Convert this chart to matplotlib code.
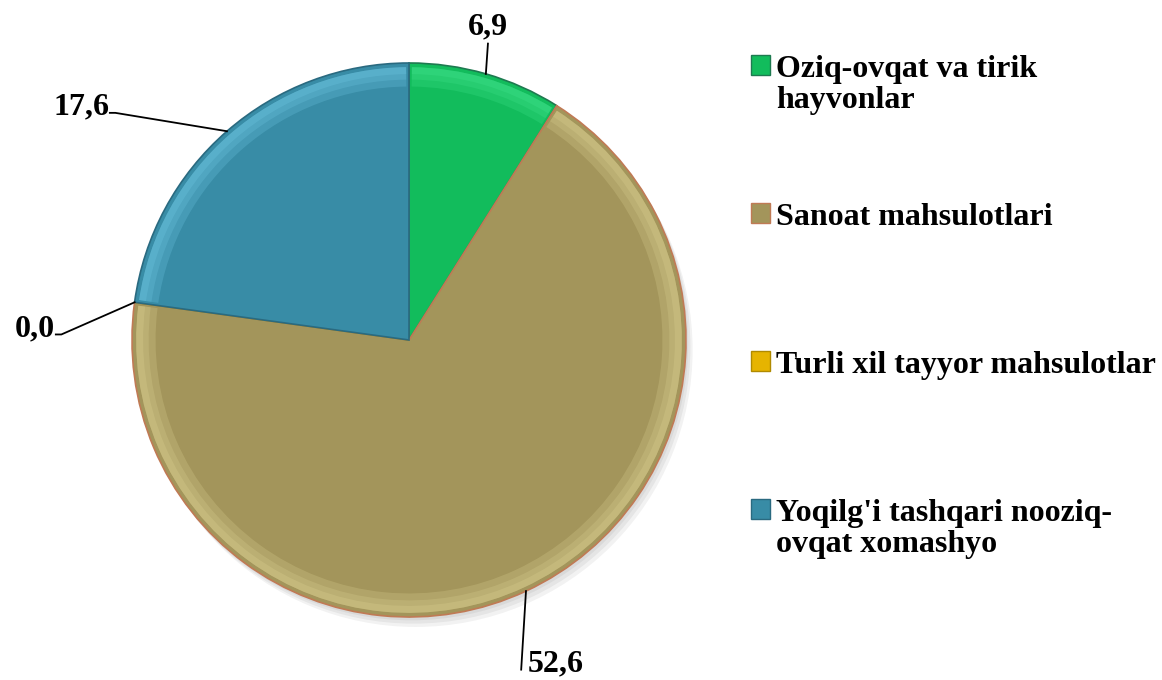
import matplotlib
matplotlib.use("Agg")
import matplotlib.pyplot as plt
from matplotlib.patches import Wedge
import numpy as np

categories = ["Oziq-ovqat va tirik\nhayvonlar", "Sanoat mahsulotlari",
              "Turli xil tayyor mahsulotlar", "Yoqilg'i tashqari nooziq-\novqat xomashyo"]
values = [6.9, 52.6, 0.0, 17.6]
value_labels = ["6,9", "52,6", "0,0", "17,6"]
colors = ["#12BC5C", "#A3955B", "#E6B400", "#388CA6"]
rim_colors = ["#3FE08A", "#D8CE8E", "#FFD84A", "#6CC4E0"]
edge_colors = ["#1E7A50", "#C07A55", "#B08A00", "#2A6A80"]

plt.rcParams['font.family'] = ['Liberation Serif', 'DejaVu Serif']
plt.rcParams['font.weight'] = 'bold'

W, H = 1162, 680
FS = 23
fig = plt.figure(figsize=(W / 100, H / 100), dpi=100)
cx, cy, r = 409, 340, 277
ax = fig.add_axes([(cx - r) / W, (H - cy - r) / H, 2 * r / W, 2 * r / H])

# soft shadow
for k in range(3):
    sh = Wedge((0.008 * (k + 1), -0.012 * (k + 1)), 1.0, 0, 360,
               facecolor='black', alpha=0.05, linewidth=0, zorder=0, clip_on=False)
    ax.add_patch(sh)

wedges, _ = ax.pie(values, colors=colors, startangle=90, counterclock=False,
                   radius=1.0, wedgeprops=dict(linewidth=1.2, zorder=2))
for w, ec in zip(wedges, edge_colors):
    w.set_edgecolor(ec)
    w.set_clip_on(False)
ax.set_xlim(-1, 1)
ax.set_ylim(-1, 1)
ax.set_aspect('equal')
ax.axis('off')

# bevel rim highlight
for w, rc in zip(wedges, rim_colors):
    if w.theta2 - w.theta1 < 0.5:
        continue
    for rw, al in [(0.07, 0.28), (0.045, 0.28), (0.025, 0.32)]:
        ring = Wedge((0, 0), 0.985, w.theta1 + 0.6, w.theta2 - 0.6, width=rw,
                     facecolor=rc, alpha=al, linewidth=0, zorder=3, clip_on=False)
        ax.add_patch(ring)

# data labels with leader lines
label_pos = {"6,9": ((0.285, 1.13), 'center', 'center', (0.285, 1.07)),
             "17,6": ((-1.08, 0.84), 'right', 'center', (-1.06, 0.82)),
             "0,0": ((-1.28, 0.04), 'right', 'center', (-1.255, 0.02)),
             "52,6": ((0.43, -1.17), 'left', 'center', (0.405, -1.19))}
for w, lab in zip(wedges, value_labels):
    mid = np.deg2rad((w.theta1 + w.theta2) / 2)
    px, py = np.cos(mid), np.sin(mid)
    (tx, ty), ha, va, (lx, ly) = label_pos[lab]
    ax.text(tx, ty, lab, ha=ha, va=va, fontsize=FS, fontweight='bold',
            color='black', clip_on=False, zorder=5)
    pts_x = [px, lx]
    pts_y = [py, ly]
    if lab in ("17,6", "0,0"):
        pts_x.append(lx - 0.02)
        pts_y.append(ly)
    ax.plot(pts_x, pts_y, color='black', linewidth=1.3, clip_on=False, zorder=5)

legend_labels = [c if "\n" in c else c + "\n" for c in categories]
leg = fig.legend(wedges, legend_labels, loc='upper left',
                 bbox_to_anchor=(751 / W, 1 - 55 / H), frameon=False,
                 prop=dict(family='Liberation Serif', weight='bold', size=FS),
                 handlelength=0.58, handleheight=0.58, handletextpad=0.2,
                 labelspacing=2.75, borderpad=0, borderaxespad=0)
for t in leg.get_texts():
    t.set_linespacing(1.1)
for h, ec in zip(leg.legend_handles, edge_colors):
    h.set_edgecolor(ec)
    h.set_linewidth(1.0)
try:
    for col in leg._legend_handle_box.get_children():
        for row in col.get_children():
            row.align = "top"
except Exception:
    pass

fig.savefig("out.png", dpi=100, facecolor='white')
